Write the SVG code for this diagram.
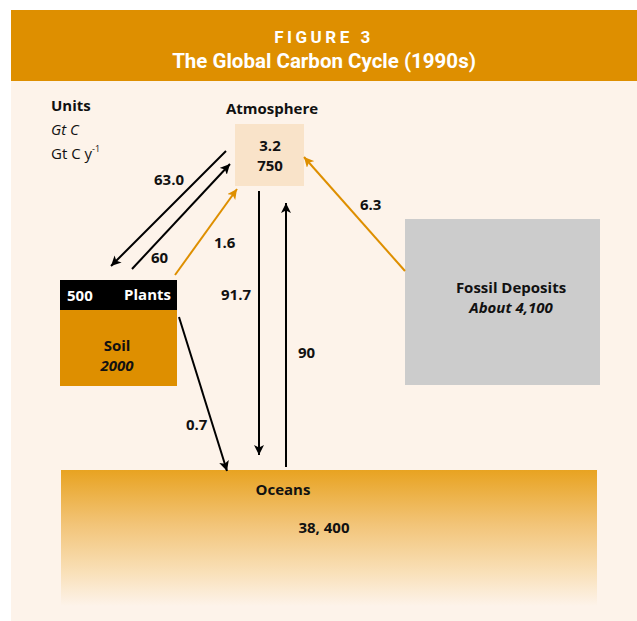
<svg xmlns="http://www.w3.org/2000/svg" width="637" height="621" viewBox="0 0 637 621">
<style>
text{font-family:"Open Sans","Liberation Sans",sans-serif;fill:#111;}
.b{font-weight:bold;font-size:15px;}
.i{font-style:italic;}
.hd{font-family:Roboto,"Liberation Sans",sans-serif;font-weight:bold;fill:#fff;text-anchor:middle;}
.blk{stroke:#000;stroke-width:2;fill:none;}
.org{stroke:#DE8F00;stroke-width:2;fill:none;}
.c{text-anchor:middle;}
</style>
<defs>
<marker id="ab" viewBox="0 0 10 10" refX="10" refY="5" markerWidth="10" markerHeight="10" markerUnits="userSpaceOnUse" orient="auto"><path d="M0,0 L10,5 L0,10 L2.5,5 Z" fill="#000"/></marker>
<marker id="ao" viewBox="0 0 10 10" refX="10" refY="5" markerWidth="10" markerHeight="10" markerUnits="userSpaceOnUse" orient="auto"><path d="M0,0 L10,5 L0,10 L2.5,5 Z" fill="#DE8F00"/></marker>
<linearGradient id="og" x1="0" y1="0" x2="0" y2="1">
<stop offset="0" stop-color="#E8A321"/>
<stop offset="0.4" stop-color="#F2C478"/>
<stop offset="0.75" stop-color="#F9E0B8"/>
<stop offset="1" stop-color="#FDF3EA"/>
</linearGradient>
</defs>
<rect x="0" y="0" width="637" height="621" fill="#fff"/>
<rect x="11" y="81" width="626" height="540" fill="#FDF3EA"/>
<g id="header">
<rect x="11" y="10" width="626" height="71" fill="#DE8F00"/>
<text class="hd" x="324" y="43" font-size="17" letter-spacing="3.5">FIGURE 3</text>
<text class="hd" x="324" y="68" font-size="20.5">The Global Carbon Cycle (1990s)</text>
</g>
<g id="units">
<text class="b" x="51" y="111">Units</text>
<text class="i" x="51" y="135" font-size="15">Gt C</text>
<text x="51" y="159" font-size="15">Gt C y<tspan font-size="9" dy="-7">-1</tspan></text>
</g>
<g id="oceans">
<rect x="61" y="470" width="536" height="136" fill="url(#og)"/>
<text class="b c" x="283" y="495">Oceans</text>
<text class="b c" x="324" y="533">38, 400</text>
</g>
<g id="atmosphere">
<text class="b c" x="272" y="114">Atmosphere</text>
<rect x="235" y="124" width="69" height="62" fill="#F9E3C9"/>
<text class="b c" x="270" y="151">3.2</text>
<text class="b c" x="270" y="171">750</text>
</g>
<g id="plants-soil">
<rect x="60" y="280" width="117" height="30" fill="#000"/>
<text class="b" x="67" y="301" style="fill:#fff">500</text>
<text class="b" x="171" y="300" text-anchor="end" style="fill:#fff">Plants</text>
<rect x="60" y="310" width="117" height="76" fill="#DE8F00"/>
<text class="b c" x="117" y="351">Soil</text>
<text class="b i c" x="117" y="371">2000</text>
</g>
<g id="fossil">
<rect x="405" y="219" width="195" height="166" fill="#CCCCCC"/>
<text class="b c" x="511" y="293">Fossil Deposits</text>
<text class="b i c" x="511" y="313">About 4,100</text>
</g>
<g id="connectors">
<line class="blk" x1="226" y1="151" x2="111" y2="266" marker-end="url(#ab)"/>
<line class="blk" x1="132" y1="269" x2="230" y2="164" marker-end="url(#ab)"/>
<line class="org" x1="175" y1="275" x2="237" y2="189" marker-end="url(#ao)"/>
<line class="blk" x1="259" y1="191" x2="259" y2="455" marker-end="url(#ab)"/>
<line class="blk" x1="286" y1="467" x2="286" y2="203" marker-end="url(#ab)"/>
<line class="blk" x1="179" y1="317" x2="227" y2="471" marker-end="url(#ab)"/>
<line class="org" x1="405" y1="271" x2="304" y2="157" marker-end="url(#ao)"/>
<text class="b" x="154" y="185">63.0</text>
<text class="b" x="151" y="263">60</text>
<text class="b" x="214" y="248">1.6</text>
<text class="b" x="221" y="300">91.7</text>
<text class="b" x="298" y="358">90</text>
<text class="b" x="186" y="430">0.7</text>
<text class="b" x="360" y="210">6.3</text>
</g>
</svg>
